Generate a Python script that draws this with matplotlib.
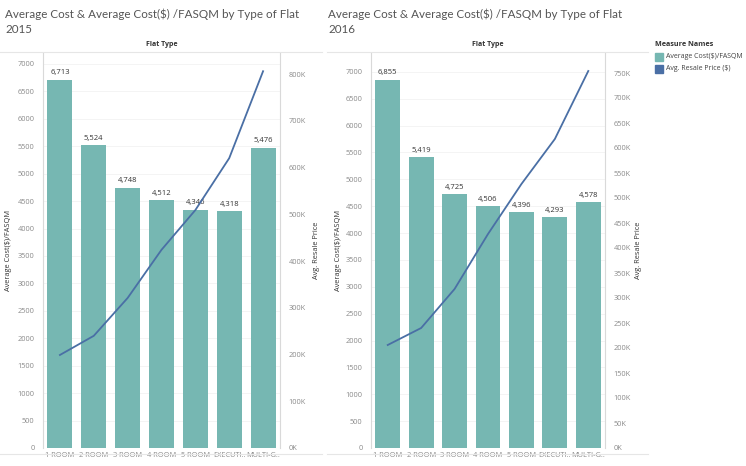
import matplotlib.pyplot as plt
from matplotlib.ticker import FuncFormatter, MultipleLocator
from matplotlib.patches import Rectangle

flat_types = ["1 ROOM", "2 ROOM", "3 ROOM", "4 ROOM", "5 ROOM", "EXECUTI..", "MULTI-G.."]

cost_2015 = [6713, 5524, 4748, 4512, 4346, 4318, 5476]
price_2015 = [199000, 240000, 321000, 424000, 509000, 620000, 806000]

cost_2016 = [6855, 5419, 4725, 4506, 4396, 4293, 4578]
price_2016 = [206000, 240000, 318000, 428000, 528000, 618000, 754000]

BAR_COLOR = "#76B7B2"
LINE_COLOR = "#4A6FA5"
TICK_COLOR = "#8a8a8a"
EDGE_COLOR = "#d9d9d9"

plt.rcParams["font.family"] = ["Open Sans", "DejaVu Sans"]

W, H = 746, 466
fig = plt.figure(figsize=(W / 100, H / 100), dpi=100)


def fx(px):
    return px / W


def fy(py):
    return 1 - py / H


def panel(x0, x1, costs, prices, ylim_left, ylim_right, right_step, title_x, year, lab_l, lab_r):
    top, bottom = 53, 448
    ax = fig.add_axes([fx(x0), fy(bottom), fx(x1 - x0), (bottom - top) / H])
    xs = range(len(flat_types))
    bars = ax.bar(xs, costs, width=0.74, color=BAR_COLOR, zorder=2)
    for b, v in zip(bars, costs):
        ax.text(b.get_x() + b.get_width() / 2, v + 60, f"{v:,}", ha="center", va="bottom",
                fontsize=5.5, color="#333333", zorder=4)
    ax.set_xlim(-0.5, len(flat_types) - 0.5)
    ax.set_ylim(*ylim_left)
    ax.yaxis.set_major_locator(MultipleLocator(500))
    ax.set_xticks(list(xs))
    ax.set_xticklabels(flat_types)
    ax.tick_params(axis="both", length=0, labelsize=5.3, labelcolor=TICK_COLOR, pad=3)
    ax.tick_params(axis="y", pad=6)
    ax.grid(axis="y", color="#f2f2f2", linewidth=0.6, zorder=0)
    for s in ["top", "bottom"]:
        ax.spines[s].set_visible(False)
    ax.spines["left"].set_color(EDGE_COLOR)
    ax.spines["right"].set_color(EDGE_COLOR)

    ax2 = ax.twinx()
    ax2.plot(list(xs), prices, color=LINE_COLOR, linewidth=1.3, zorder=3)
    ax2.set_ylim(*ylim_right)
    ax2.yaxis.set_major_locator(MultipleLocator(right_step))
    ax2.yaxis.set_major_formatter(FuncFormatter(lambda v, p: f"{int(round(v / 1000))}K"))
    ax2.tick_params(axis="y", length=0, labelsize=5.3, labelcolor=TICK_COLOR, pad=6)
    for s in ax2.spines.values():
        s.set_visible(False)

    fig.text(fx(lab_l), fy(250), "Average Cost($)/FASQM", fontsize=5.3, color="#333333",
             rotation=90, ha="center", va="center")
    fig.text(fx(lab_r), fy(250), "Avg. Resale Price", fontsize=5.3, color="#333333",
             rotation=90, ha="center", va="center")

    fig.text(fx(title_x), fy(22), "Average Cost & Average Cost($) /FASQM by Type of Flat\n" + year,
             fontsize=8.4, color="#555555", ha="left", va="center", linespacing=1.4,
             family=["Lato", "DejaVu Sans"])
    fig.text(fx((x0 + x1) / 2), fy(45), "Flat Type", fontsize=5, color="#333333",
             fontweight="bold", ha="center", va="center")


panel(43, 280, cost_2015, price_2015, (0, 7200), (0, 845000), 100000, 5, "2015", 9, 316)
panel(371, 605, cost_2016, price_2016, (0, 7350), (0, 790000), 50000, 328, "2016", 339, 638)

# header and bottom separator lines
for xa, xb in [(0, 322), (327, 648)]:
    fig.add_artist(plt.Line2D([fx(xa), fx(xb)], [fy(52), fy(52)], color="#e6e6e6", linewidth=0.8))
    fig.add_artist(plt.Line2D([fx(xa), fx(xb)], [fy(454), fy(454)], color="#e6e6e6", linewidth=0.8))

# legend
fig.text(fx(655), fy(45), "Measure Names", fontsize=5.2, color="#333333", fontweight="bold",
         ha="left", va="center")
for i, (lab, col) in enumerate([("Average Cost($)/FASQM", BAR_COLOR), ("Avg. Resale Price ($)", LINE_COLOR)]):
    yc = 57 + i * 12
    fig.add_artist(Rectangle((fx(655), fy(yc + 4)), fx(8), 8 / H, color=col, transform=fig.transFigure))
    fig.text(fx(666), fy(yc), lab, fontsize=5.0, color="#444444", ha="left", va="center")

fig.savefig("out.png", dpi=100)
